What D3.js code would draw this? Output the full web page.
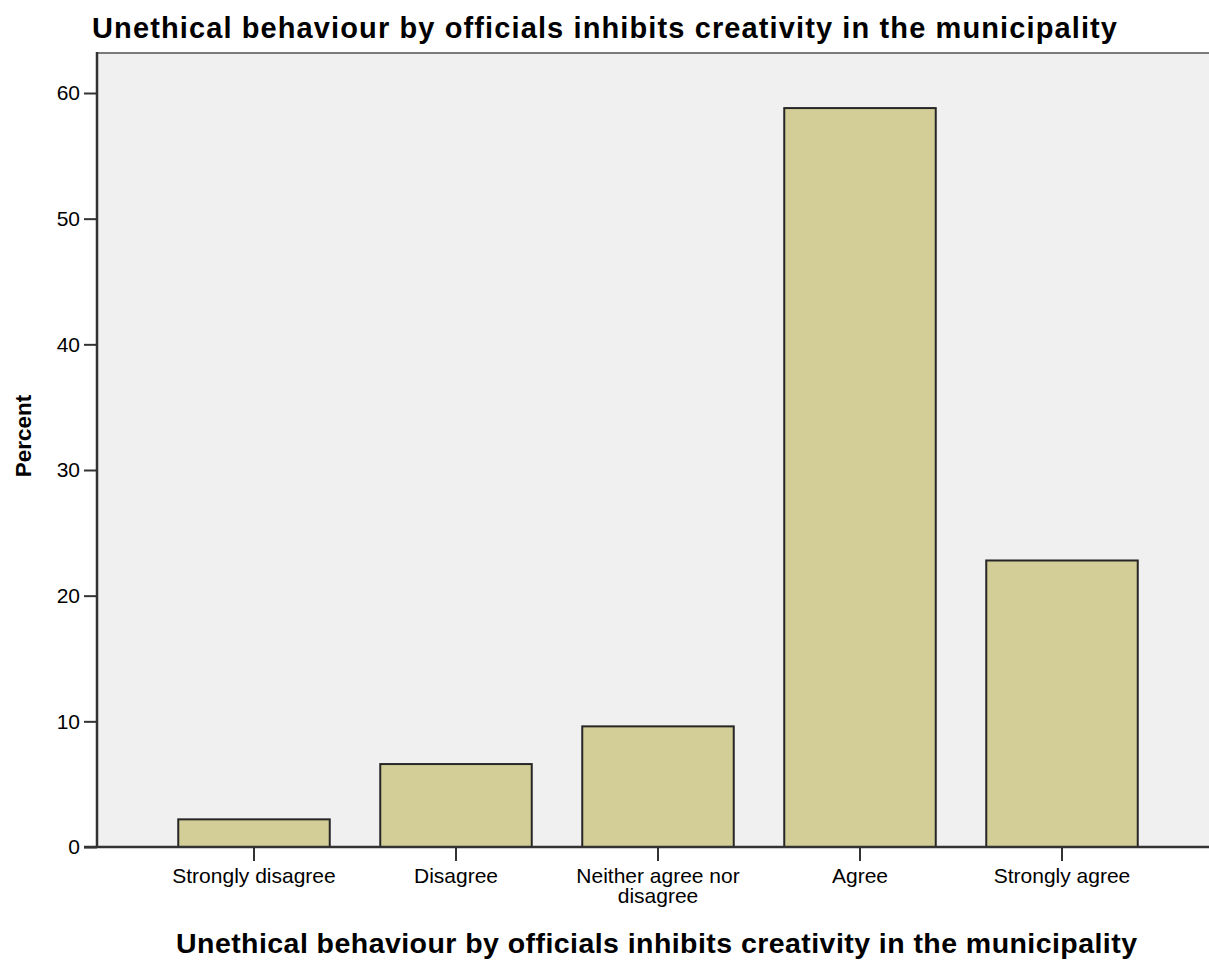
<!DOCTYPE html>
<html><head><meta charset="utf-8">
<script src="https://cdn.jsdelivr.net/npm/d3@7"></script>
<style>
html,body{margin:0;padding:0;background:#fff;}
text{font-family:"Liberation Sans",Arial,sans-serif;fill:#000;}
</style></head>
<body>
<svg id="chart" width="1209" height="960"></svg>
<script>
const categories = ["Strongly disagree","Disagree","Neither agree nor disagree","Agree","Strongly agree"];
const labelLines = [["Strongly disagree"],["Disagree"],["Neither agree nor","disagree"],["Agree"],["Strongly agree"]];
const percents = [2.2, 6.6, 9.6, 58.8, 22.8];
const yTicks = [0,10,20,30,40,50,60];
const titleText = "Unethical behaviour by officials inhibits creativity in the municipality";
const yTitle = "Percent";

const svg = d3.select("#chart");
const L = 97, T = 53, R = 1209, B = 847;

const y = d3.scaleLinear().domain([0,60]).range([B, 93]);
const x = d3.scaleBand().domain(categories).range([153,1163]).paddingInner(0.25).paddingOuter(0.125);

// plot background
svg.append("rect").attr("x",L).attr("y",T).attr("width",R-L).attr("height",B-T).attr("fill","#f0f0f0");
// top border
svg.append("line").attr("x1",L).attr("x2",R).attr("y1",T).attr("y2",T).attr("stroke","#7a7a7a").attr("stroke-width",2);

// bars
svg.selectAll("rect.bar").data(percents).join("rect").attr("class","bar")
  .attr("x",(d,i)=>x(categories[i]))
  .attr("y",d=>y(d))
  .attr("width",x.bandwidth())
  .attr("height",d=>B-y(d))
  .attr("fill","#d3ce97")
  .attr("stroke","#262626").attr("stroke-width",2);

// y axis
const yAxis = d3.axisLeft(y).tickValues(yTicks).tickSize(13).tickPadding(4).tickFormat(d3.format("d"));
const gy = svg.append("g").attr("transform",`translate(${L},0)`).call(yAxis);
gy.select(".domain").remove();
gy.selectAll(".tick line").attr("stroke","#333").attr("stroke-width",2);
gy.selectAll(".tick text").attr("font-size",21).attr("font-family","Liberation Sans, Arial, sans-serif").attr("fill","#000");
svg.append("line").attr("x1",L).attr("x2",L).attr("y1",T-1).attr("y2",B+1).attr("stroke","#333").attr("stroke-width",2.5);

// x axis
const xAxis = d3.axisBottom(x).tickSize(14).tickFormat("");
const gx = svg.append("g").attr("transform",`translate(0,${B})`).call(xAxis);
gx.select(".domain").remove();
gx.selectAll(".tick line").attr("stroke","#333").attr("stroke-width",2);
svg.append("line").attr("x1",L-13).attr("x2",R).attr("y1",B).attr("y2",B).attr("stroke","#333").attr("stroke-width",2.5);

// x labels
categories.forEach((c,i)=>{
  const t = svg.append("text").attr("x",x(c)+x.bandwidth()/2).attr("y",883)
    .attr("text-anchor","middle").attr("font-size",21);
  labelLines[i].forEach((ln,j)=>{
    t.append("tspan").attr("x",x(c)+x.bandwidth()/2).attr("y",883+j*20).text(ln);
  });
});

// titles
svg.append("text").attr("x",92).attr("y",38).attr("font-size",29).attr("font-weight","bold")
  .attr("textLength",1025).attr("lengthAdjust","spacing").text(titleText);
svg.append("text").attr("x",176).attr("y",953).attr("font-size",28.5).attr("font-weight","bold")
  .attr("textLength",961).attr("lengthAdjust","spacing").text(titleText);
svg.append("text").attr("transform","translate(31,436) rotate(-90)").attr("text-anchor","middle")
  .attr("font-size",22.5).attr("font-weight","bold").text(yTitle);
</script>
</body></html>
